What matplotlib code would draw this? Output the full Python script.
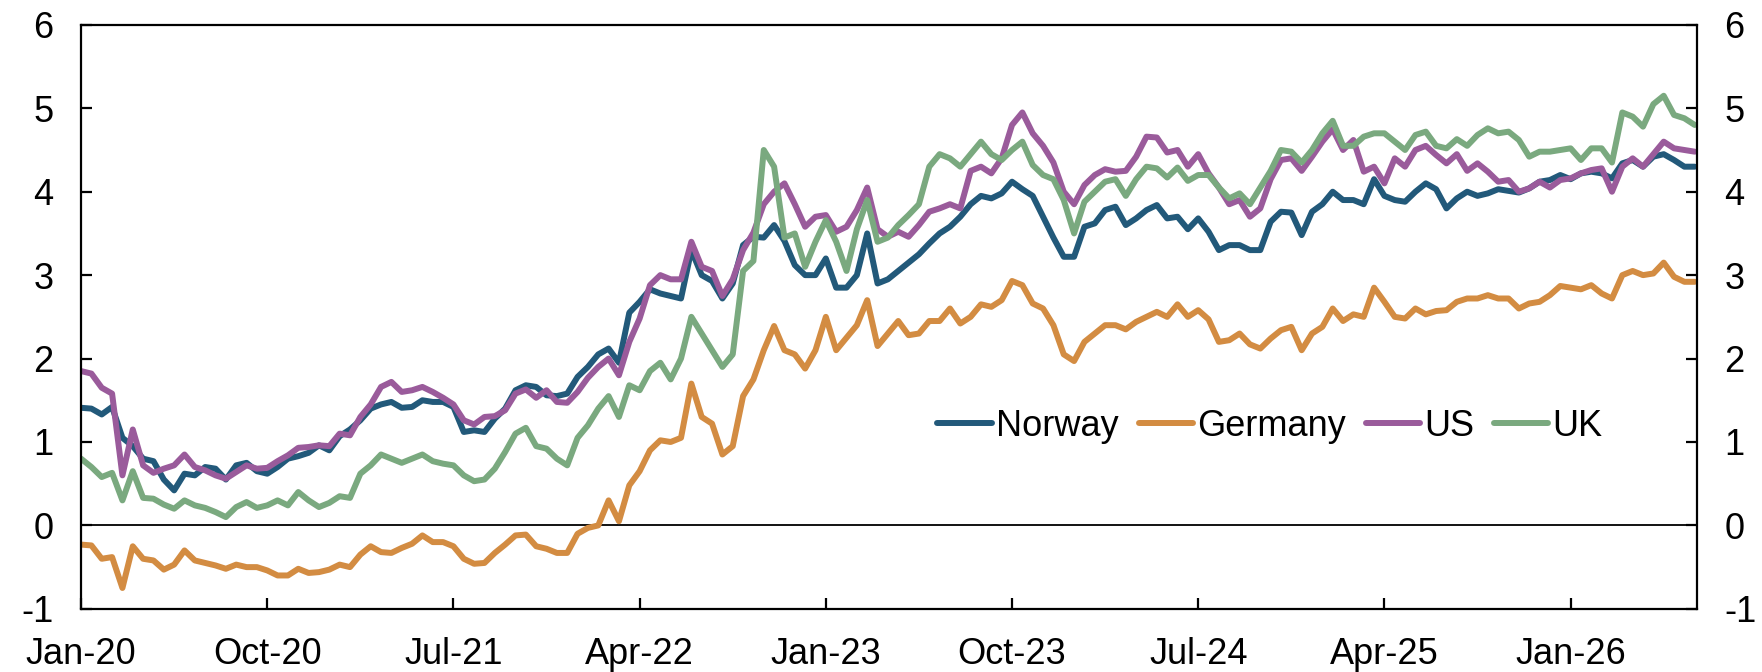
import numpy as np
import matplotlib
matplotlib.use("Agg")
import matplotlib.pyplot as plt

plt.rcParams['font.family'] = ['Liberation Sans', 'DejaVu Sans']
plt.rcParams['axes.unicode_minus'] = False

# Semi-monthly observations, months since Jan 2020 (0 = 1 Jan 2020)
months = np.arange(0, 78.5, 0.5)

norway = [1.41, 1.40, 1.33, 1.42, 1.05, 0.95, 0.80, 0.77, 0.55, 0.42, 0.62, 0.60, 0.70, 0.68, 0.55, 0.72, 0.75, 0.65, 0.62, 0.70,
          0.80, 0.83, 0.87, 0.96, 0.90, 1.07, 1.15, 1.26,
          1.40, 1.45, 1.48, 1.41, 1.42, 1.50, 1.48, 1.48, 1.42, 1.12, 1.14, 1.12, 1.28, 1.40, 1.62, 1.68, 1.66, 1.56, 1.55, 1.58,
          1.78, 1.90, 2.05, 2.12, 1.95, 2.55, 2.68,
          2.83, 2.78, 2.75, 2.72, 3.30, 3.00, 2.93, 2.72, 2.90, 3.36, 3.46, 3.45, 3.60, 3.41, 3.12, 3.00, 3.00, 3.20, 2.85, 2.85,
          3.00, 3.50, 2.90, 2.95, 3.05, 3.15,
          3.25, 3.38, 3.50, 3.58, 3.70, 3.85, 3.95, 3.92, 3.98, 4.12, 4.03, 3.95, 3.70, 3.45, 3.22, 3.22, 3.58, 3.62, 3.78, 3.82,
          3.60, 3.68, 3.78, 3.84, 3.68, 3.70, 3.55, 3.68,
          3.52, 3.30, 3.36, 3.36, 3.30, 3.30, 3.64, 3.76, 3.75, 3.48, 3.76, 3.85, 4.00, 3.90, 3.90, 3.85, 4.15, 3.95, 3.90, 3.88,
          4.00, 4.10, 4.03, 3.80, 3.92, 4.00, 3.95,
          3.98, 4.03, 4.01, 3.99, 4.04, 4.12, 4.14, 4.20, 4.15, 4.22, 4.24, 4.22, 4.16, 4.34, 4.38, 4.30, 4.42, 4.45, 4.38, 4.30,
          4.30]

germany = [-0.23, -0.24, -0.40, -0.38, -0.75, -0.25, -0.40, -0.42, -0.53, -0.47, -0.30, -0.42, -0.45, -0.48, -0.52, -0.47,
           -0.50, -0.50, -0.54, -0.60, -0.60, -0.52, -0.57, -0.56, -0.53, -0.47, -0.50, -0.35,
           -0.25, -0.32, -0.33, -0.27, -0.22, -0.12, -0.20, -0.20, -0.25, -0.40, -0.46, -0.45, -0.33, -0.23, -0.12, -0.11,
           -0.25, -0.28, -0.33, -0.33, -0.10, -0.03, 0.00, 0.30, 0.05, 0.48, 0.65,
           0.90, 1.02, 1.00, 1.05, 1.70, 1.30, 1.22, 0.85, 0.95, 1.55, 1.75, 2.10, 2.39, 2.10, 2.05, 1.88, 2.10, 2.50, 2.10, 2.25,
           2.40, 2.70, 2.15, 2.30, 2.45, 2.28,
           2.30, 2.45, 2.45, 2.60, 2.42, 2.50, 2.65, 2.62, 2.70, 2.93, 2.88, 2.66, 2.60, 2.40, 2.05, 1.97, 2.20, 2.30, 2.40, 2.40,
           2.35, 2.44, 2.50, 2.56, 2.50, 2.65, 2.50, 2.58,
           2.47, 2.20, 2.22, 2.30, 2.17, 2.12, 2.24, 2.34, 2.38, 2.10, 2.30, 2.38, 2.60, 2.45, 2.53, 2.50, 2.85, 2.68, 2.50, 2.48,
           2.60, 2.53, 2.57, 2.58, 2.68, 2.72, 2.72,
           2.76, 2.72, 2.72, 2.60, 2.66, 2.68, 2.76, 2.87, 2.85, 2.83, 2.88, 2.78, 2.72, 3.00, 3.05, 3.00, 3.02, 3.15, 2.98, 2.92,
           2.92]

us = [1.85, 1.82, 1.65, 1.58, 0.60, 1.15, 0.72, 0.63, 0.68, 0.72, 0.85, 0.70, 0.66, 0.60, 0.56, 0.64, 0.72, 0.68, 0.69, 0.77,
      0.84, 0.93, 0.94, 0.96, 0.95, 1.10, 1.08, 1.30,
      1.45, 1.66, 1.72, 1.60, 1.62, 1.66, 1.60, 1.53, 1.45, 1.26, 1.21, 1.30, 1.31, 1.38, 1.58, 1.63, 1.53, 1.62, 1.48, 1.47,
      1.60, 1.77, 1.90, 2.00, 1.80, 2.20, 2.48,
      2.88, 3.00, 2.95, 2.95, 3.40, 3.10, 3.05, 2.75, 2.95, 3.30, 3.51, 3.85, 4.00, 4.10, 3.85, 3.58, 3.70, 3.72, 3.52, 3.58,
      3.78, 4.05, 3.55, 3.46, 3.52, 3.46,
      3.60, 3.76, 3.80, 3.85, 3.80, 4.25, 4.30, 4.22, 4.40, 4.80, 4.95, 4.70, 4.55, 4.35, 4.00, 3.85, 4.08, 4.20, 4.27, 4.24,
      4.25, 4.42, 4.66, 4.65, 4.47, 4.50, 4.30, 4.45,
      4.22, 4.05, 3.85, 3.90, 3.70, 3.80, 4.15, 4.38, 4.40, 4.25, 4.42, 4.60, 4.75, 4.50, 4.62, 4.24, 4.30, 4.10, 4.40, 4.30,
      4.50, 4.55, 4.44, 4.34, 4.45, 4.25, 4.34,
      4.24, 4.12, 4.14, 4.00, 4.04, 4.12, 4.05, 4.14, 4.16, 4.22, 4.26, 4.28, 4.00, 4.30, 4.40, 4.30, 4.45, 4.60, 4.52, 4.50,
      4.48]

uk = [0.80, 0.70, 0.58, 0.63, 0.30, 0.65, 0.33, 0.32, 0.25, 0.20, 0.30, 0.24, 0.21, 0.16, 0.10, 0.22, 0.28, 0.21, 0.24, 0.30,
      0.24, 0.40, 0.30, 0.22, 0.27, 0.35, 0.33, 0.62,
      0.72, 0.85, 0.80, 0.75, 0.80, 0.85, 0.77, 0.74, 0.72, 0.60, 0.53, 0.55, 0.68, 0.88, 1.10, 1.17, 0.95, 0.92, 0.80, 0.72,
      1.05, 1.20, 1.40, 1.55, 1.30, 1.68, 1.62,
      1.85, 1.95, 1.75, 2.00, 2.50, 2.30, 2.10, 1.90, 2.05, 3.05, 3.17, 4.50, 4.30, 3.45, 3.50, 3.10, 3.40, 3.66, 3.40, 3.05,
      3.55, 3.90, 3.40, 3.45, 3.60, 3.72,
      3.85, 4.30, 4.45, 4.40, 4.30, 4.45, 4.60, 4.45, 4.38, 4.50, 4.60, 4.32, 4.20, 4.15, 3.90, 3.50, 3.88, 4.00, 4.12, 4.15,
      3.95, 4.15, 4.30, 4.28, 4.17, 4.29, 4.13, 4.20,
      4.20, 4.05, 3.92, 3.98, 3.85, 4.05, 4.25, 4.50, 4.48, 4.35, 4.50, 4.70, 4.85, 4.55, 4.55, 4.66, 4.70, 4.70, 4.60, 4.50,
      4.68, 4.72, 4.55, 4.52, 4.63, 4.55, 4.68,
      4.76, 4.70, 4.72, 4.62, 4.42, 4.48, 4.48, 4.50, 4.52, 4.38, 4.52, 4.52, 4.35, 4.95, 4.90, 4.78, 5.05, 5.15, 4.92, 4.88,
      4.80]

series_names = ["Norway", "Germany", "US", "UK"]
series_colors = ["#22597a", "#d38c42", "#9a5b9b", "#7aa97f"]

tick_months = [0, 9, 18, 27, 36, 45, 54, 63, 72]
tick_labels = ["Jan-20", "Oct-20", "Jul-21", "Apr-22", "Jan-23", "Oct-23", "Jul-24", "Apr-25", "Jan-26"]
y_ticks = [-1, 0, 1, 2, 3, 4, 5, 6]

LW = 4.3

fig = plt.figure(figsize=(17.62, 6.72), dpi=100)
ax = fig.add_axes([0.046, 0.094, 0.917, 0.869])

ax.axhline(0, color="black", lw=1.3, zorder=1)
for vals, name, col in zip([norway, germany, us, uk], series_names, series_colors):
    ax.plot(months, vals, color=col, lw=LW, label=name, zorder=2,
            solid_joinstyle="round", solid_capstyle="round")

ax.set_xlim(0, 78.1)
ax.set_ylim(-1, 6)
ax.set_xticks(tick_months)
ax.set_xticklabels(tick_labels)
ax.set_yticks(y_ticks)
ax.set_yticklabels([str(v) for v in y_ticks])

for sp in ax.spines.values():
    sp.set_linewidth(1.6)
    sp.set_color("black")

ax.tick_params(axis="x", direction="in", length=8, width=1.6, pad=20, labelsize=26)
ax.tick_params(axis="y", direction="in", length=8, width=1.6, pad=20, labelsize=26,
               left=True, right=True, labelleft=True, labelright=True)

leg = ax.legend(loc="center left", bbox_to_anchor=(0.530, 0.312), ncol=4, frameon=False,
                fontsize=26, handlelength=1.5, handletextpad=0.12, columnspacing=0.55,
                borderpad=0, borderaxespad=0)
for h in leg.get_lines():
    h.set_linewidth(LW)
    h.set_solid_capstyle("round")

fig.savefig("out.png", dpi=100)
